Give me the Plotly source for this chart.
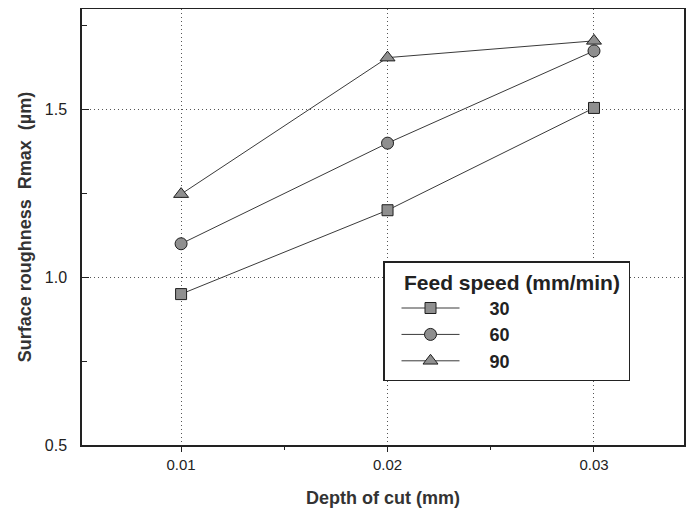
import plotly.graph_objects as go

depth = [0.01, 0.02, 0.03]
rmax_30 = [0.95, 1.20, 1.505]
rmax_60 = [1.10, 1.40, 1.675]
rmax_90 = [1.248, 1.655, 1.705]
feed_labels = ["30", "60", "90"]
x_ticks = [0.01, 0.02, 0.03]
x_tick_text = ["0.01", "0.02", "0.03"]
y_ticks = [0.5, 1.0, 1.5]
y_tick_text = ["0.5", "1.0", "1.5"]

series = [rmax_30, rmax_60, rmax_90]
symbols = ["square", "circle", "triangle-up"]
sizes = [11, 12, 13]
pad = "\u00a0" * 5

fig = go.Figure()
for vals, lab, sym, sz in zip(series, feed_labels, symbols, sizes):
    fig.add_trace(go.Scatter(
        x=depth, y=vals, name=pad + lab, mode="lines+markers",
        line=dict(color="#3a3a3a", width=1),
        marker=dict(symbol=sym, size=sz, color="#8f8f8f",
                    line=dict(color="#1e1e1e", width=1)),
    ))

font = "Liberation Sans, Arial, sans-serif"
fig.update_layout(
    width=694, height=512,
    margin=dict(l=74, r=18, t=1, b=75, autoexpand=False),
    paper_bgcolor="white", plot_bgcolor="white",
    font=dict(family=font, color="#222222"),
    showlegend=True,
    legend=dict(
        x=0.5, y=0.422, xanchor="left", yanchor="top",
        bordercolor="#222222", borderwidth=1.5, bgcolor="white",
        title=dict(text="\u00a0\u00a0\u00a0Feed speed (mm/min)\u00a0", font=dict(size=21, weight="bold", color="#222222")),
        font=dict(size=18, weight="bold", color="#222222"),
        itemwidth=58, tracegroupgap=0, indentation=12,
    ),
    xaxis=dict(
        range=[0.0052, 0.03436], tickvals=x_ticks, ticktext=x_tick_text,
        ticks="outside", ticklen=5, tickcolor="#222222",
        minor=dict(tickvals=[0.015, 0.025], ticks="outside", ticklen=3, tickcolor="#222222"),
        showline=True, linecolor="#222222", linewidth=1.5, mirror=True,
        showgrid=True, gridcolor="#555555", griddash="1px,3px", gridwidth=1,
        zeroline=False, automargin=False,
        tickfont=dict(size=15, color="#222222"),
        title=dict(text="Depth of cut (mm)", font=dict(size=18, weight="bold", color="#333333"), standoff=20),
    ),
    yaxis=dict(
        range=[0.5, 1.8], tickvals=y_ticks, ticktext=y_tick_text,
        ticks="inside", ticklen=7, tickcolor="#222222",
        minor=dict(tickvals=[0.75, 1.25, 1.75], ticks="inside", ticklen=5, tickcolor="#222222"),
        showline=True, linecolor="#222222", linewidth=1.5, mirror=True,
        showgrid=True, gridcolor="#555555", griddash="1px,3px", gridwidth=1,
        zeroline=False, automargin=False,
        tickfont=dict(size=16, color="#222222"), ticklabelstandoff=10,
        title=dict(text="Surface roughness  Rmax  (µm)", font=dict(size=18, weight="bold", color="#333333"), standoff=8),
    ),
)

fig.write_html("out.html")
